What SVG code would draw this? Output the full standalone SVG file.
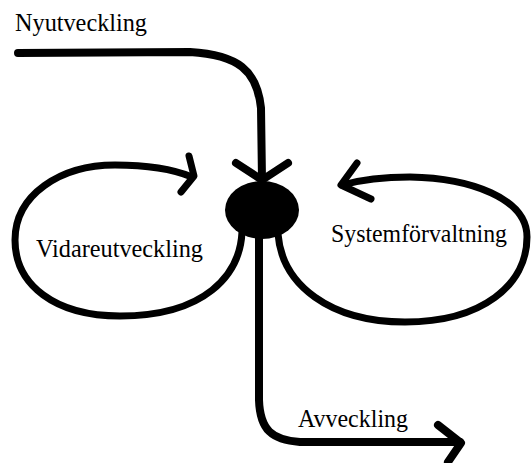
<svg xmlns="http://www.w3.org/2000/svg" width="531" height="463" viewBox="0 0 531 463">
  <style>
    .bg { fill: #ffffff; }
    .flow { fill: none; stroke: #000000; stroke-width: 8; stroke-linecap: round; stroke-linejoin: round; }
    .loop { fill: none; stroke: #000000; stroke-width: 7; stroke-linecap: round; stroke-linejoin: round; }
    .label { font-family: "Liberation Serif", "Times New Roman", serif; font-size: 25px; fill: #000000; }
  </style>
  <rect class="bg" x="0" y="0" width="531" height="463"/>

  <!-- connectors: incoming, two feedback loops, outgoing -->
  <g id="connectors">
    <!-- Nyutveckling: in from the top-left, bending down into the hub -->
    <path class="flow" d="M 18 53 L 190 52 C 238 55 257 70 261 108 L 262 180"/>
    <path class="flow" d="M 236 163 L 262 180 L 288 163"/>

    <!-- Vidareutveckling loop (left) -->
    <path class="loop" d="M 242 232 C 240 275 205 316 120 316 C 55 316 15 285 15 240 C 15 195 60 165 115 165 C 150 165 175 170 192 177"/>
    <path class="loop" d="M 189 156 L 194 176 L 181 192"/>

    <!-- Systemförvaltning loop (right) -->
    <path class="loop" d="M 278 234 C 282 285 330 322 405 322 C 482 322 527 285 527 237 C 527 198 470 178 410 177 C 380 177 360 180 342 185"/>
    <path class="loop" d="M 357 163 L 341 185 L 371 199"/>

    <!-- Avveckling: down from the hub, then out to the right -->
    <path class="flow" d="M 259 230 L 259 400 C 260 430 272 440 300 442 L 460 442"/>
    <path class="flow" d="M 438 425 L 461 443 L 448 462"/>
  </g>

  <g id="hub">
    <ellipse cx="262" cy="210" rx="37" ry="29" fill="#000000"/>
  </g>

  <g id="nyutveckling">
    <text class="label" x="15" y="31" textLength="132" lengthAdjust="spacingAndGlyphs">Nyutveckling</text>
  </g>
  <g id="vidareutveckling">
    <text class="label" x="36" y="257" textLength="167" lengthAdjust="spacingAndGlyphs">Vidareutveckling</text>
  </g>
  <g id="systemforvaltning">
    <text class="label" x="331" y="242" textLength="176" lengthAdjust="spacingAndGlyphs">Systemförvaltning</text>
  </g>
  <g id="avveckling">
    <text class="label" x="298" y="427" textLength="110" lengthAdjust="spacingAndGlyphs">Avveckling</text>
  </g>
</svg>
